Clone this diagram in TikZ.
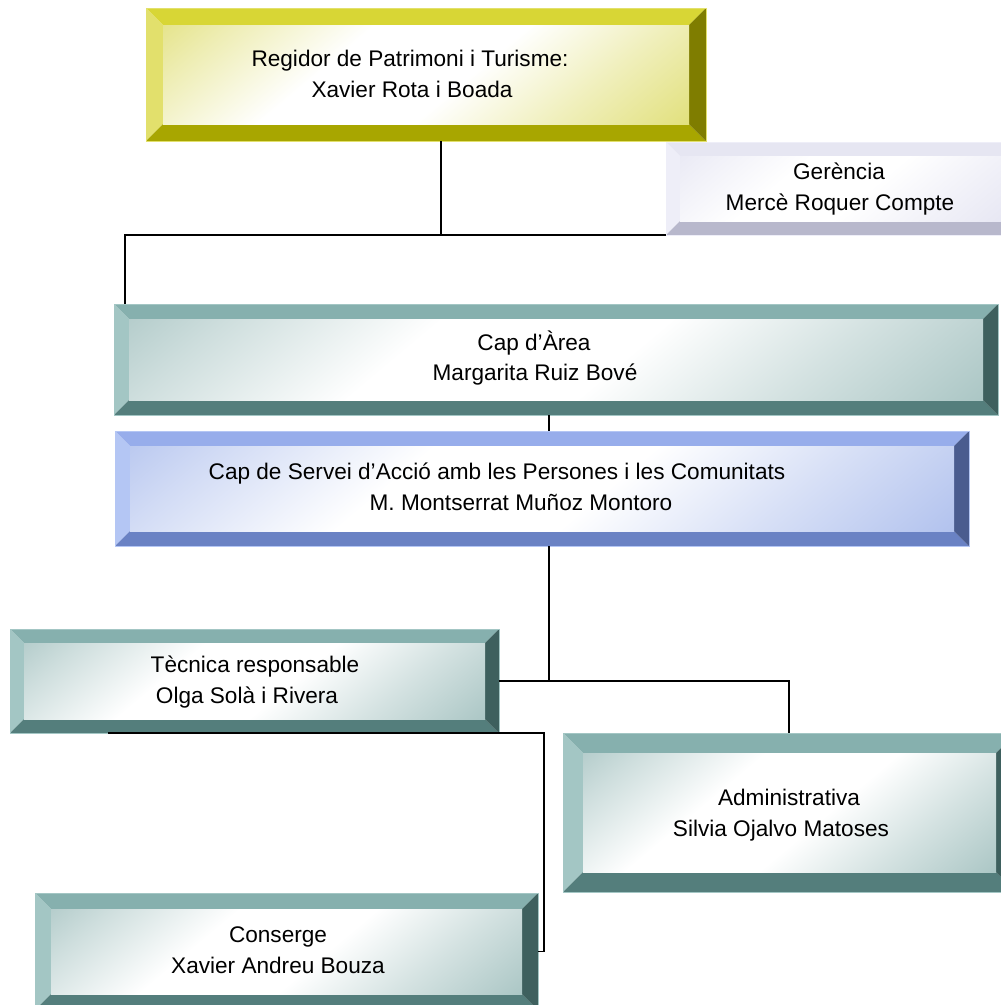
\documentclass[tikz,border=0pt]{standalone}
\usepackage{fontspec}
\setmainfont{Liberation Sans}
\usetikzlibrary{calc}
% olive
\definecolor{olT}{HTML}{D8D635}\definecolor{olL}{HTML}{E2E06C}\definecolor{olB}{HTML}{A8A600}\definecolor{olR}{HTML}{7F7D00}\definecolor{olF}{HTML}{D4D240}
% lavender
\definecolor{lvT}{HTML}{E6E6F2}\definecolor{lvL}{HTML}{EEEEF8}\definecolor{lvB}{HTML}{B8B8CC}\definecolor{lvR}{HTML}{A2A2B8}\definecolor{lvF}{HTML}{DCDCEE}
% teal
\definecolor{tlT}{HTML}{86B0AE}\definecolor{tlL}{HTML}{A3C6C4}\definecolor{tlB}{HTML}{547E7C}\definecolor{tlR}{HTML}{3E605E}\definecolor{tlF}{HTML}{84ACAA}
% blue
\definecolor{blT}{HTML}{97ADEB}\definecolor{blL}{HTML}{B4C6F4}\definecolor{blB}{HTML}{6A82C4}\definecolor{blR}{HTML}{4A5C8F}\definecolor{blF}{HTML}{8EA6E6}
\colorlet{tint}{white}
\pgfdeclareverticalshading[tint]{bface}{100bp}{color(0bp)=(tint); color(30bp)=(tint!35!white); color(45bp)=(white); color(62bp)=(white); color(78bp)=(tint!40!white); color(100bp)=(tint)}
\tikzset{
  boxnode/.style={rectangle, inner sep=0pt, outer sep=0pt},
  txt/.style={font=\fontsize{22.6}{26}\selectfont, inner sep=0pt, anchor=base},
  conn/.style={draw=black, line width=1.5pt}
}
\newcommand\bevbox[7]{%
  \fill[#7T] (#2,#3) -- (#4,#3) -- ({#4-#6},{#3+#6}) -- ({#2+#6},{#3+#6}) -- cycle;
  \fill[#7L] (#2,#3) -- ({#2+#6},{#3+#6}) -- ({#2+#6},{#5-#6}) -- (#2,#5) -- cycle;
  \fill[#7B] (#2,#5) -- ({#2+#6},{#5-#6}) -- ({#4-#6},{#5-#6}) -- (#4,#5) -- cycle;
  \fill[#7R] (#4,#3) -- (#4,#5) -- ({#4-#6},{#5-#6}) -- ({#4-#6},{#3+#6}) -- cycle;
  \colorlet{tint}{#7F}%
  \shade[shading=bface, shading angle=40] ({#2+#6},{#3+#6}) rectangle ({#4-#6},{#5-#6});
  \draw[#7L, line width=0.6pt] (#2,#3) rectangle (#4,#5);
  \node[boxnode, minimum width={(#4-#2)*1pt}, minimum height={(#5-#3)*1pt}] (#1) at ({(#2+#4)/2},{(#3+#5)/2}) {};
}
\begin{document}
\begin{tikzpicture}[x=1pt, y=-1pt]
\useasboundingbox[fill=white] (0,0) rectangle (1001,1005);
% boxes
\bevbox{reg}{146}{8}{706}{141}{17}{ol}
\bevbox{ger}{666}{142}{1016}{235}{14}{lv}
\bevbox{area}{114}{304}{998}{415}{15}{tl}
\bevbox{serv}{115}{431}{969}{546}{15}{bl}
\bevbox{tec}{10}{629}{499}{733}{14}{tl}
\bevbox{adm}{563}{733}{1016}{892}{20}{tl}
\bevbox{cons}{35}{893}{538}{1010}{16}{tl}
% texts
\node[txt] (reg1) at (410,66) {Regidor de Patrimoni i Turisme:};
\node[txt] (reg2) at (412,97) {Xavier Rota i Boada};
\node[txt] (ger1) at (839,179) {Gerència};
\node[txt] (ger2) at (840,210) {Mercè Roquer Compte};
\node[txt] (area1) at (534,350) {Cap d’Àrea};
\node[txt] (area2) at (535,380) {Margarita Ruiz Bové};
\node[txt] (serv1) at (497,479) {Cap de Servei d’Acció amb les Persones i les Comunitats};
\node[txt] (serv2) at (521,510) {M. Montserrat Muñoz Montoro};
\node[txt] (tec1) at (255,672) {Tècnica responsable};
\node[txt] (tec2) at (247,703) {Olga Solà i Rivera};
\node[txt] (adm1) at (789,805) {Administrativa};
\node[txt] (adm2) at (781,836) {Silvia Ojalvo Matoses};
\node[txt] (cons1) at (278,942) {Conserge};
\node[txt] (cons2) at (278,973) {Xavier Andreu Bouza};
% junction coordinates
\coordinate (j1) at (441,235);
\coordinate (xl) at (125,0);
\coordinate (xm) at (549,0);
\coordinate (jm) at (549,681);
\coordinate (xa) at (789,0);
\coordinate (xt) at (108,0);
\coordinate (xc) at (544,0);
% connectors
\draw[conn] (reg.south -| j1) -- (j1);
\draw[conn] (area.north -| xl) |- (ger.south west);
\draw[conn] (area.south -| xm) -- (serv.north -| xm);
\draw[conn] (serv.south -| xm) -- (jm);
\draw[conn] (tec.east) -| (adm.north -| xa);
\draw[conn] (tec.south -| xt) -- (tec.south -| xc) |- (cons.east);
\end{tikzpicture}
\end{document}
